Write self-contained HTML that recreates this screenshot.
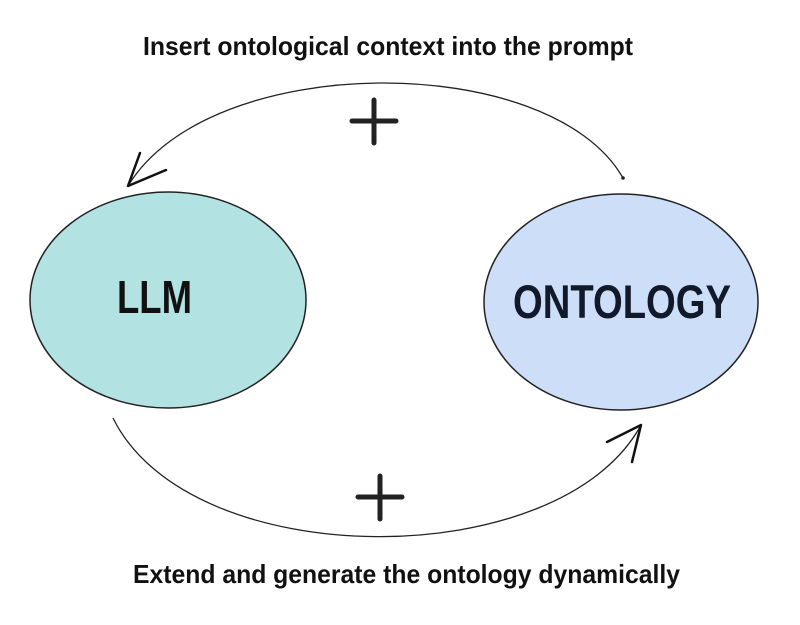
<!DOCTYPE html>
<html><head><meta charset="utf-8"><style>html,body{margin:0;padding:0;background:#fff}svg{display:block}</style></head>
<body>
<svg width="800" height="625" viewBox="0 0 800 625" xmlns="http://www.w3.org/2000/svg" font-family="Liberation Sans, sans-serif" font-weight="bold">
<ellipse cx="168" cy="300" rx="138" ry="108" fill="#b3e2e3" stroke="#222" stroke-width="1.5"/>
<ellipse cx="621" cy="302" rx="137" ry="108" fill="#cddff8" stroke="#222" stroke-width="1.5"/>
<text x="117" y="313" font-size="46" fill="#111" textLength="75" lengthAdjust="spacingAndGlyphs">LLM</text>
<text x="513" y="318" font-size="47" fill="#111a2a" textLength="218" lengthAdjust="spacingAndGlyphs">ONTOLOGY</text>
<path d="M623 178 C550 50 210 50 128 186" fill="none" stroke="#222" stroke-width="1.3"/>
<circle cx="623" cy="178" r="1.8" fill="#222"/>
<path d="M140 153 L128 186 L166 170" fill="none" stroke="#111" stroke-width="2.5" stroke-linecap="round" stroke-linejoin="round"/>
<path d="M113 418 C190 575 560 575 641 425" fill="none" stroke="#222" stroke-width="1.3"/>
<path d="M607 442 L641 425 L632 462" fill="none" stroke="#111" stroke-width="2.5" stroke-linecap="round" stroke-linejoin="round"/>
<path d="M352 121 H396 M374 100 V143" stroke="#222" stroke-width="5" stroke-linecap="round"/>
<path d="M358 497 H402 M380 476 V519" stroke="#222" stroke-width="5" stroke-linecap="round"/>
<text x="143" y="55" font-size="26" fill="#111" textLength="490" lengthAdjust="spacingAndGlyphs">Insert ontological context into the prompt</text>
<text x="133" y="583" font-size="26" fill="#111" textLength="547" lengthAdjust="spacingAndGlyphs">Extend and generate the ontology dynamically</text>
</svg>
</body></html>
